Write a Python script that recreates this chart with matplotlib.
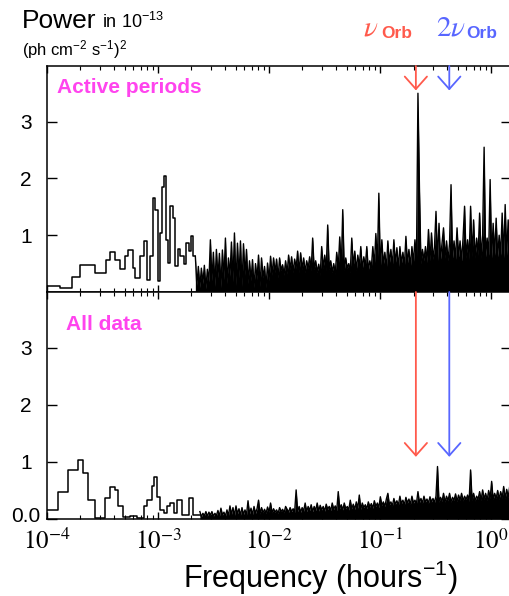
import numpy as np
import matplotlib
matplotlib.use('Agg')
import matplotlib.pyplot as plt
import matplotlib.transforms as mtransforms

plt.rcParams['font.family'] = ['Liberation Sans', 'DejaVu Sans']
plt.rcParams['mathtext.fontset'] = 'stix'

# Periodograma: parte de baixa frequencia (degraus), bordas em horas^-1
ativo_bordas = [1.00e-4, 1.31e-4, 1.68e-4, 1.99e-4, 2.71e-4, 3.41e-4, 3.71e-4, 4.11e-4,
                4.56e-4, 5.06e-4, 5.42e-4, 5.94e-4, 6.23e-4, 6.92e-4, 7.40e-4, 7.95e-4,
                8.39e-4, 9.00e-4, 9.45e-4, 9.91e-4, 1.033e-3, 1.086e-3, 1.122e-3, 1.187e-3,
                1.230e-3, 1.290e-3, 1.365e-3, 1.432e-3, 1.502e-3, 1.588e-3, 1.701e-3,
                1.799e-3, 1.887e-3, 1.984e-3, 2.069e-3, 2.168e-3]
ativo_degraus = [0.10, 0.07, 0.26, 0.48, 0.34, 0.57, 0.70, 0.57, 0.40, 0.63, 0.74, 0.42,
                 0.24, 0.63, 0.90, 0.22, 0.63, 1.65, 1.45, 0.20, 1.04, 1.85, 2.05, 0.92,
                 0.51, 1.52, 1.30, 0.45, 0.75, 0.63, 0.50, 0.86, 0.72, 0.99, 0.63]

todos_bordas = [1.00e-4, 1.257e-4, 1.548e-4, 1.905e-4, 2.114e-4, 2.346e-4, 2.71e-4, 3.34e-4,
                3.71e-4, 4.11e-4, 4.40e-4, 4.83e-4, 5.62e-4, 6.46e-4, 7.40e-4, 7.95e-4,
                8.82e-4, 9.25e-4, 9.78e-4, 1.033e-3, 1.122e-3, 1.205e-3, 1.290e-3, 1.382e-3,
                1.483e-3, 1.645e-3, 1.887e-3, 2.069e-3, 2.382e-3]
todos_degraus = [0.16, 0.48, 0.86, 1.04, 0.80, 0.33, 0.01, 0.36, 0.56, 0.51, 0.22, 0.04,
                 0.05, 0.01, 0.22, 0.33, 0.57, 0.74, 0.39, 0.16, 0.10, 0.22, 0.28, 0.10,
                 0.33, 0.07, 0.36, 0.07]

# parte densa (alta frequencia): picos e vales alternados, grade logaritmica
ativo_f0, todos_f0, f_fim = 2.168e-3, 2.382e-3, 1.564
ativo_denso = [
    0.63, 0.12, 0.45, 0.08, 0.42, 0.15, 0.47, 0.06, 0.40, 0.18,
    0.92, 0.20, 0.70, 0.10, 0.75, 0.25, 0.68, 0.08, 0.74, 0.22,
    0.95, 0.15, 0.60, 0.28, 0.88, 0.18, 1.04, 0.12, 0.86, 0.25,
    0.90, 0.10, 0.85, 0.30, 0.75, 0.15, 0.55, 0.20, 0.57, 0.08,
    0.50, 0.22, 0.65, 0.10, 0.60, 0.25, 0.45, 0.08, 0.51, 0.20,
    0.63, 0.30, 0.60, 0.35, 0.58, 0.25, 0.60, 0.38, 0.48, 0.30,
    0.55, 0.32, 0.65, 0.40, 0.62, 0.35, 0.58, 0.42, 0.72, 0.35,
    0.69, 0.40, 0.60, 0.35, 0.55, 0.42, 0.62, 0.38, 0.95, 0.40,
    0.55, 0.35, 0.49, 0.30, 0.80, 0.42, 0.65, 0.38, 1.18, 0.40,
    0.55, 0.35, 0.50, 0.32, 0.70, 0.42, 0.97, 0.40, 1.45, 0.38,
    0.60, 0.42, 0.50, 0.35, 0.95, 0.45, 0.72, 0.38, 0.65, 0.45,
    0.80, 0.40, 0.62, 0.45, 0.80, 0.38, 0.55, 0.42, 0.80, 0.45,
    1.03, 0.48, 1.74, 0.42, 0.92, 0.48, 0.70, 0.40, 0.90, 0.50,
    0.75, 0.45, 0.92, 0.50, 0.78, 0.42, 0.80, 0.50, 0.70, 0.45,
    0.98, 0.50, 0.75, 0.45, 0.80, 0.52, 0.92, 0.48, 3.50, 1.83,
    0.50, 0.75, 0.55, 0.80, 0.52, 1.10, 0.55, 1.04, 0.58, 0.80,
    1.42, 0.55, 1.21, 0.58, 0.85, 1.13, 0.60, 0.90, 0.55, 0.85,
    1.89, 0.60, 0.90, 0.58, 1.13, 0.62, 0.90, 0.55, 0.95, 1.51,
    0.60, 0.92, 0.58, 1.51, 0.62, 1.27, 0.60, 0.95, 0.65, 1.39,
    0.60, 1.00, 2.55, 0.62, 0.95, 0.65, 1.98, 0.60, 1.21, 0.65,
    1.30, 0.62, 1.00, 0.65, 1.39, 0.60, 1.54, 0.65, 1.27, 0.62,
    1.50, 0.65]
todos_denso = [
    0.13, 0.04, 0.10, 0.06, 0.13, 0.05, 0.12, 0.07, 0.13, 0.05,
    0.10, 0.06, 0.15, 0.05, 0.19, 0.07, 0.12, 0.05, 0.16, 0.06,
    0.23, 0.08, 0.20, 0.06, 0.23, 0.09, 0.18, 0.07, 0.20, 0.08,
    0.16, 0.07, 0.32, 0.09, 0.19, 0.08, 0.22, 0.10, 0.18, 0.33,
    0.09, 0.20, 0.11, 0.17, 0.10, 0.21, 0.12, 0.28, 0.11, 0.18,
    0.12, 0.16, 0.10, 0.20, 0.13, 0.17, 0.11, 0.22, 0.17, 0.12,
    0.20, 0.13, 0.18, 0.12, 0.51, 0.13, 0.22, 0.12, 0.20, 0.14,
    0.28, 0.13, 0.22, 0.15, 0.25, 0.13, 0.22, 0.15, 0.28, 0.14,
    0.24, 0.16, 0.22, 0.14, 0.26, 0.17, 0.22, 0.15, 0.28, 0.17,
    0.23, 0.15, 0.48, 0.18, 0.25, 0.16, 0.28, 0.18, 0.22, 0.16,
    0.33, 0.18, 0.26, 0.17, 0.30, 0.19, 0.42, 0.17, 0.28, 0.20,
    0.25, 0.18, 0.30, 0.21, 0.27, 0.19, 0.32, 0.22, 0.28, 0.20,
    0.39, 0.24, 0.30, 0.22, 0.35, 0.45, 0.25, 0.30, 0.23, 0.36,
    0.26, 0.32, 0.24, 0.40, 0.27, 0.33, 0.25, 0.38, 0.28, 0.35,
    0.26, 0.40, 0.28, 0.33, 0.27, 0.48, 0.29, 0.36, 0.28, 0.40,
    0.30, 0.35, 0.28, 0.39, 0.30, 0.36, 0.29, 0.40, 0.92, 0.30,
    0.38, 0.31, 0.45, 0.30, 0.40, 0.32, 0.45, 0.30, 0.38, 0.33,
    0.44, 0.31, 0.42, 0.33, 0.45, 0.32, 0.40, 0.34, 0.42, 0.31,
    0.86, 0.33, 0.45, 0.32, 0.40, 0.35, 0.48, 0.33, 0.51, 0.35,
    0.45, 0.33, 0.50, 0.36, 0.66, 0.34, 0.45, 0.36, 0.50, 0.35,
    0.48, 0.37, 0.57, 0.36, 0.52, 0.38, 0.57, 0.37, 0.50]

nu_orb = 0.21
x_ticks = [1e-4, 1e-3, 1e-2, 1e-1, 1e0]
x_rotulos = [r'$10^{-4}$', r'$10^{-3}$', r'$10^{-2}$', r'$10^{-1}$', r'$10^{0}$']

cor_vermelho = '#ff5a4c'
cor_azul = '#5866ff'
cor_magenta = '#ff44ee'

W, H = 510, 596


def px(x, y):
    # converte pixel (origem no topo) para coordenadas da figura
    return x / W, 1 - y / H


fig = plt.figure(figsize=(W / 100, H / 100), dpi=100)
ax1 = fig.add_axes([47 / W, 1 - 292 / H, 464 / W, 226 / H])
ax2 = fig.add_axes([47 / W, 1 - 519 / H, 464 / W, 227 / H], sharex=ax1)

paineis = [
    (ax1, ativo_bordas, ativo_degraus, ativo_f0, ativo_denso, 'Active periods', 57, 93, 3.55),
    (ax2, todos_bordas, todos_degraus, todos_f0, todos_denso, 'All data', 66, 330, 1.09),
]

for ax, bordas, degraus, f0, denso, titulo, x_tit, y_tit, y_seta in paineis:
    ax.plot(bordas, list(degraus) + [degraus[-1]], drawstyle='steps-post', color='black', lw=1.1)
    f_denso = np.geomspace(f0, f_fim, len(denso))
    ax.fill_between(f_denso, 0, denso, color='black', lw=0)
    ax.plot(f_denso, denso, color='black', lw=1.0)
    ax.set_xscale('log')
    ax.set_xlim(1e-4, 1.51)
    ax.set_ylim(0, 3.98)
    for s in ax.spines.values():
        s.set_linewidth(1.1)
    ax.tick_params(axis='x', which='major', direction='in', top=True, bottom=True, length=5, width=1.0)
    ax.tick_params(axis='x', which='minor', direction='in', top=True, bottom=True, length=3, width=0.8)
    ax.tick_params(axis='y', which='major', direction='in', left=True, right=True, length=7,
                   width=1.0, labelsize=15, pad=15)
    fig.text(*px(x_tit, y_tit), titulo, color=cor_magenta, fontsize=15,
             fontweight='bold', va='baseline')
    for f, cor in [(nu_orb, cor_vermelho), (2 * nu_orb, cor_azul)]:
        ax.annotate('', xy=(f, y_seta), xytext=(f, 3.98),
                    arrowprops=dict(arrowstyle='->,head_length=0.9,head_width=0.8',
                                    color=cor, lw=1.3, shrinkA=0, shrinkB=0))

ax1.set_yticks([1, 2, 3])
ax1.set_yticklabels(['1', '2', '3'])
ax2.set_yticks([0, 1, 2, 3])
ax2.set_yticklabels(['0.0', '1', '2', '3'])
for ax in (ax1, ax2):
    for lab in ax.get_yticklabels():
        lab.set_horizontalalignment('center')

# o "0.0" fica um pouco acima, encostado no 10^-4 como no original
sobe = mtransforms.ScaledTranslation(0, 4 / 100, fig.dpi_scale_trans)
rot0 = ax2.get_yticklabels()[0]
rot0.set_transform(rot0.get_transform() + sobe)

ax2.set_xticks(x_ticks)
ax2.set_xticklabels(x_rotulos, fontsize=18)
ax2.tick_params(axis='x', which='major', pad=7)
ax1.tick_params(axis='x', which='both', labelbottom=False)

# textos do cabecalho
fig.text(*px(22, 28), 'Power', fontsize=19, va='baseline')
fig.text(*px(102, 28), r'in 10$\mathregular{^{-13}}$', fontsize=13, va='baseline')
fig.text(*px(22, 55), r'(ph cm$\mathregular{^{-2}}$ s$\mathregular{^{-1}}$)$\mathregular{^{2}}$',
         fontsize=12, va='baseline')

fig.text(*px(363, 35), r'$\nu$', fontsize=21, color=cor_vermelho, va='baseline')
fig.text(*px(381, 38), 'Orb', fontsize=12.5, fontweight='bold', color=cor_vermelho, va='baseline')
fig.text(*px(436, 35), r'$2\nu$', fontsize=21, color=cor_azul, va='baseline')
fig.text(*px(466, 38), 'Orb', fontsize=12.5, fontweight='bold', color=cor_azul, va='baseline')

fig.text(*px(320, 588), r'Frequency (hours$\mathregular{^{-1}}$)', fontsize=22,
         ha='center', va='baseline')

fig.savefig('out.png', dpi=100)
